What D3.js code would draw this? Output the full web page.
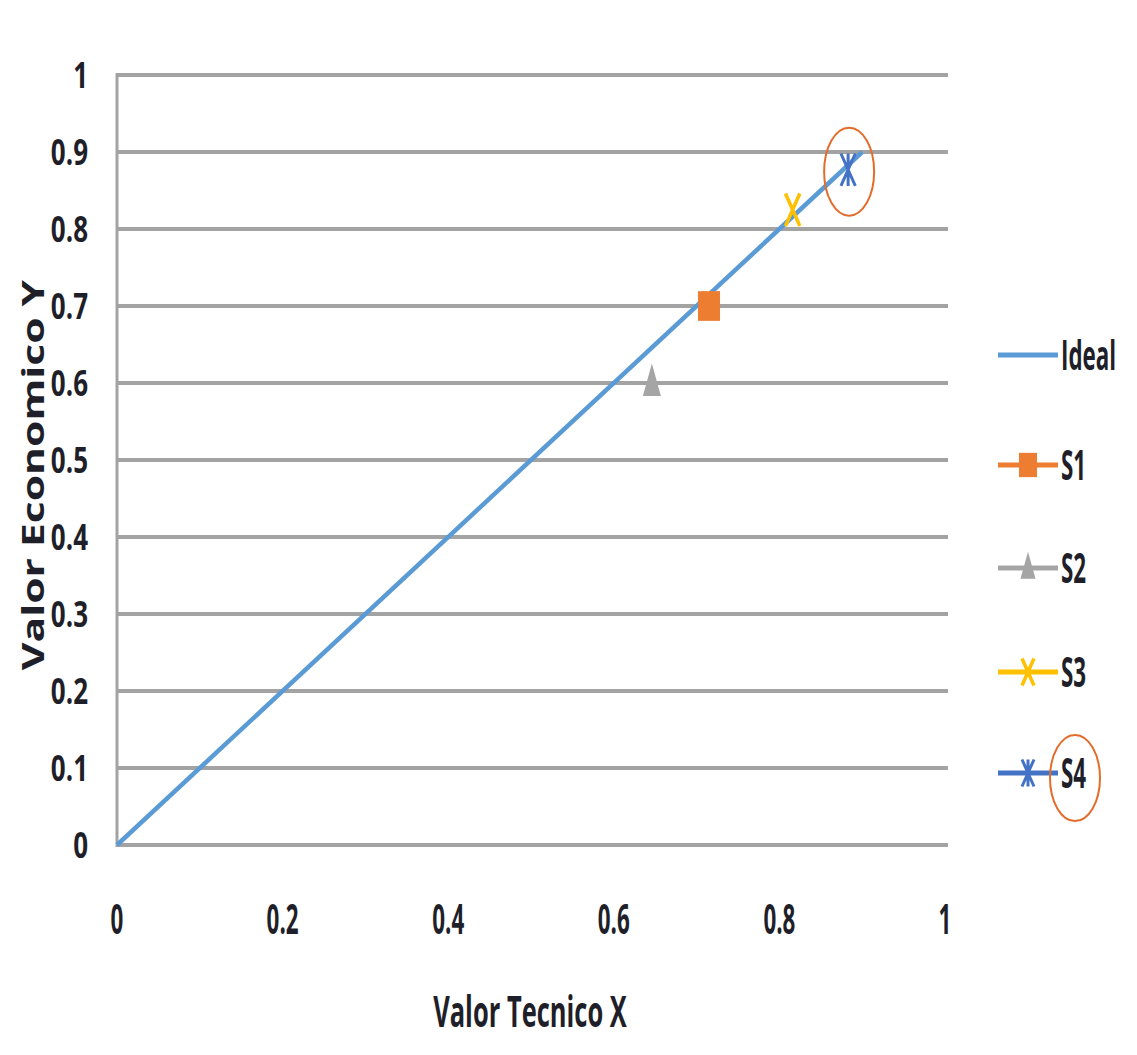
<!DOCTYPE html>
<html><head><meta charset="utf-8">
<script src="https://cdn.jsdelivr.net/npm/d3@7"></script>
<style>body{margin:0;background:#fff}svg{display:block}</style>
</head><body>
<script>
const yTicks = [0,0.1,0.2,0.3,0.4,0.5,0.6,0.7,0.8,0.9,1];
const xTicks = [0,0.2,0.4,0.6,0.8,1];
const idealX = [0, 0.9];
const idealY = [0, 0.9];
const seriesNames = ["S1","S2","S3","S4"];
const seriesX = [0.715, 0.646, 0.816, 0.883];
const seriesY = [0.70, 0.60, 0.825, 0.877];
const seriesColors = ["#ED7D31","#A5A5A5","#FFC000","#4472C4"];
const seriesSymbols = ["square","triangle","star","asterisk"];
const legendNames = ["Ideal","S1","S2","S3","S4"];
const xTitle = "Valor Tecnico X";
const yTitle = "Valor Economico Y";

const W=1137,H=1055;
const svg=d3.select("body").append("svg").attr("width",W).attr("height",H);
const x=d3.scaleLinear().domain([0,1]).range([117,945]);
const y=d3.scaleLinear().domain([0,1]).range([845,75]);
const font="'Open Sans','DejaVu Sans',sans-serif";
const ink="#1f1f2a";

// gridlines
svg.append("g").selectAll("line").data(yTicks).join("line")
  .attr("x1",x(0)).attr("x2",948).attr("y1",d=>y(d)).attr("y2",d=>y(d))
  .attr("stroke","#a3a3a3").attr("stroke-width",4);
svg.append("line").attr("x1",x(0)).attr("x2",x(0)).attr("y1",y(1)-2).attr("y2",y(0)+2)
  .attr("stroke","#a3a3a3").attr("stroke-width",3);

// y tick labels
svg.append("g").selectAll("text").data(yTicks).join("text")
  .attr("transform",d=>`translate(88,${y(d)+13}) scale(1,1.4)`).attr("text-anchor","end")
  .attr("font-family",font).attr("font-weight","bold").attr("font-size",26).attr("fill",ink)
  .text(d=>d3.format("~g")(d));
// x tick labels
svg.append("g").selectAll("text").data(xTicks).join("text")
  .attr("transform",d=>`translate(${x(d)},934) scale(0.8,1.45)`).attr("text-anchor","middle")
  .attr("font-family",font).attr("font-weight","bold").attr("font-size",28).attr("fill",ink)
  .text(d=>d3.format("~g")(d));
// titles
svg.append("text").attr("transform","translate(530,1027) scale(0.85,1.45)").attr("text-anchor","middle")
  .attr("font-family",font).attr("font-weight","bold").attr("font-size",30).attr("fill",ink).text(xTitle);
svg.append("text").attr("transform","translate(44,475) rotate(-90) scale(1.42,1)").attr("text-anchor","middle")
  .attr("font-family",font).attr("font-weight","bold").attr("font-size",30).attr("fill",ink).text(yTitle);

// ideal line
const line=d3.line().x(d=>x(d[0])).y(d=>y(d[1]));
svg.append("path").datum(idealX.map((v,i)=>[v,idealY[i]])).attr("d",line)
  .attr("fill","none").attr("stroke","#5B9BD5").attr("stroke-width",4.5);

function marker(g,type,color,s){
  const h=s*1.35;
  if(type==="square"){
    g.append("rect").attr("x",-s).attr("y",-h).attr("width",2*s).attr("height",2*h).attr("fill",color);
  } else if(type==="triangle"){
    g.append("path").attr("d",`M0,${-h*1.2}L${s*0.75},${h*0.8}L${-s*0.75},${h*0.8}Z`).attr("fill",color);
  } else if(type==="star"){
    g.append("path").attr("d",`M${-s*0.6},${-h}L${s*0.6},${h}M${s*0.6},${-h}L${-s*0.6},${h}`)
      .attr("stroke",color).attr("stroke-width",3.5).attr("fill","none");
  } else {
    g.append("path").attr("d",`M${-s*0.6},${-h}L${s*0.6},${h}M${s*0.6},${-h}L${-s*0.6},${h}M0,${-h}L0,${h}`)
      .attr("stroke",color).attr("stroke-width",3).attr("fill","none");
  }
}
seriesNames.forEach((n,i)=>{
  const g=svg.append("g").attr("transform",`translate(${x(seriesX[i])},${y(seriesY[i])})`);
  marker(g,seriesSymbols[i],seriesColors[i],i===0?11:12);
});

// highlight circle
svg.append("ellipse").attr("cx",x(seriesX[3])+1).attr("cy",y(seriesY[3])+2).attr("rx",25).attr("ry",44)
  .attr("fill","none").attr("stroke","#E46C2B").attr("stroke-width",2);

// legend
const legY=[355,465,568,672,773];
const legColors=["#5B9BD5",...seriesColors];
legendNames.forEach((n,i)=>{
  const g=svg.append("g").attr("transform",`translate(0,${legY[i]})`);
  g.append("line").attr("x1",998).attr("x2",1058).attr("stroke",legColors[i]).attr("stroke-width",5);
  if(i>0){
    const m=g.append("g").attr("transform","translate(1028,0)");
    marker(m,seriesSymbols[i-1],legColors[i],i===1?9:10);
  }
  g.append("text").attr("transform","translate(1061,15) scale(0.8,1.5)")
    .attr("font-family",font).attr("font-weight","bold").attr("font-size",28).attr("fill",ink).text(n);
});
svg.append("ellipse").attr("cx",1075).attr("cy",778).attr("rx",25).attr("ry",43)
  .attr("fill","none").attr("stroke","#E46C2B").attr("stroke-width",2);
</script>
</body></html>
